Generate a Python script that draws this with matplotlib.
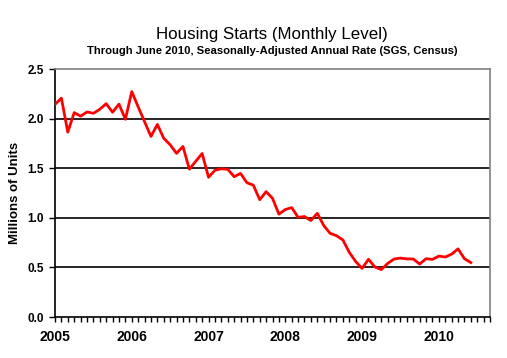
import numpy as np
import matplotlib
matplotlib.use("Agg")
import matplotlib.pyplot as plt

plt.rcParams['font.family'] = ['Liberation Sans', 'DejaVu Sans']

# housing starts, millions of units (SAAR), Jan 2005 .. Jun 2010
starts = [2.144, 2.207, 1.864, 2.061, 2.025, 2.068, 2.054, 2.095, 2.151, 2.065, 2.147, 1.994,
          2.273, 2.119, 1.969, 1.821, 1.942, 1.802, 1.737, 1.650, 1.720, 1.491, 1.570, 1.649,
          1.409, 1.480, 1.495, 1.490, 1.415, 1.448, 1.354, 1.330, 1.183, 1.264, 1.197, 1.037,
          1.084, 1.103, 1.005, 1.013, 0.973, 1.046, 0.923, 0.844, 0.820, 0.777, 0.652, 0.560,
          0.490, 0.582, 0.505, 0.478, 0.540, 0.585, 0.594, 0.586, 0.585, 0.534, 0.588, 0.581,
          0.614, 0.605, 0.634, 0.687, 0.588, 0.549]
years = ['2005', '2006', '2007', '2008', '2009', '2010']
yticks = [0.0, 0.5, 1.0, 1.5, 2.0, 2.5]

months = np.arange(len(starts))

fig = plt.figure(figsize=(5.07, 3.58), dpi=100)
ax = fig.add_axes([0.1085, 0.1145, 0.858, 0.6925])

for v in yticks[1:-1]:
    ax.axhline(v, color='black', lw=1.2, zorder=1)
ax.plot(months, starts, color='#ff0000', lw=2, zorder=3)

ax.set_xlim(0, 68)
ax.set_ylim(0, 2.5)
ax.set_xticks(np.arange(len(years)) * 12)
ax.set_xticklabels(years, fontsize=10, fontweight='bold')
ax.set_xticks(np.arange(0, 69), minor=True)
ax.tick_params(axis='x', which='both', direction='out', length=3.5, width=1, pad=6)
ax.set_yticks(yticks)
ax.set_yticklabels(['%.1f' % v for v in yticks], fontsize=8.5, fontweight='bold')
ax.tick_params(axis='y', direction='out', length=4, width=1, pad=4)
ax.set_ylabel('Millions of Units', fontsize=9.5, fontweight='bold')
ax.yaxis.set_label_coords(-0.078, 0.5)

for s in ['left', 'bottom']:
    ax.spines[s].set_color('black')
    ax.spines[s].set_linewidth(1.2)
for s in ['top', 'right']:
    ax.spines[s].set_color('#808080')
    ax.spines[s].set_linewidth(1.2)

fig.text(0.537, 0.905, 'Housing Starts (Monthly Level)', ha='center', va='center', fontsize=12.2)
fig.text(0.537, 0.858, 'Through June 2010, Seasonally-Adjusted Annual Rate (SGS, Census)',
         ha='center', va='center', fontsize=8.1, fontweight='bold')

fig.savefig('out.png', dpi=100)
